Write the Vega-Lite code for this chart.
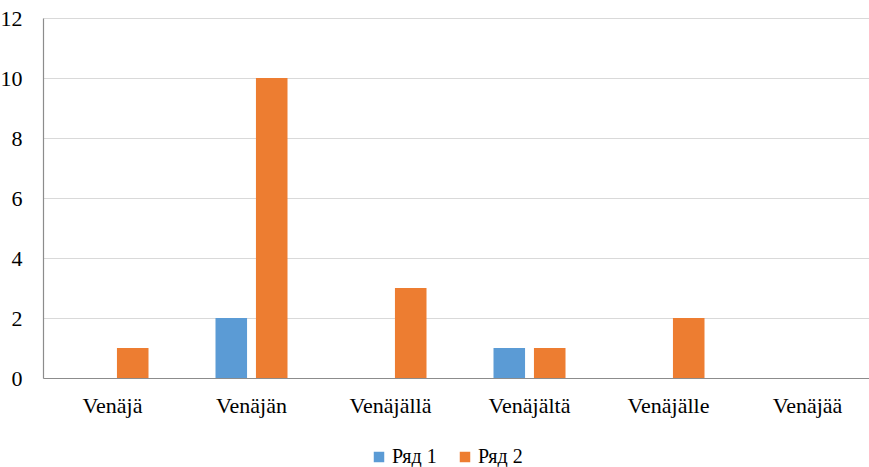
{
  "$schema": "https://vega.github.io/schema/vega-lite/v6.json",
  "autosize": {"type": "none"},
  "width": 834,
  "height": 360,
  "padding": {"left": 43, "top": 18, "right": 0, "bottom": 89},
  "background": "white",
  "data": {
    "values": [
      {"case": "Venäjä", "series": "Ряд 1", "count": 0},
      {"case": "Venäjä", "series": "Ряд 2", "count": 1},
      {"case": "Venäjän", "series": "Ряд 1", "count": 2},
      {"case": "Venäjän", "series": "Ряд 2", "count": 10},
      {"case": "Venäjällä", "series": "Ряд 1", "count": 0},
      {"case": "Venäjällä", "series": "Ряд 2", "count": 3},
      {"case": "Venäjältä", "series": "Ряд 1", "count": 1},
      {"case": "Venäjältä", "series": "Ряд 2", "count": 1},
      {"case": "Venäjälle", "series": "Ряд 1", "count": 0},
      {"case": "Venäjälle", "series": "Ряд 2", "count": 2},
      {"case": "Venäjää", "series": "Ряд 1", "count": 0},
      {"case": "Venäjää", "series": "Ряд 2", "count": 0}
    ]
  },
  "mark": {"type": "bar"},
  "encoding": {
    "x": {
      "field": "case",
      "type": "nominal",
      "sort": null,
      "title": null,
      "scale": {"paddingInner": 0.482, "paddingOuter": 0.241},
      "axis": {
        "labelAngle": 0,
        "labelFont": "Liberation Serif",
        "labelFontSize": 22,
        "labelColor": "#000000",
        "labelPadding": 17,
        "ticks": false,
        "domainColor": "#8c8c8c",
        "domainWidth": 1.2
      }
    },
    "xOffset": {
      "field": "series",
      "type": "nominal",
      "scale": {"paddingInner": 0.22, "paddingOuter": 0}
    },
    "y": {
      "field": "count",
      "type": "quantitative",
      "title": null,
      "scale": {"domain": [0, 12], "nice": false},
      "axis": {
        "values": [0, 2, 4, 6, 8, 10, 12],
        "labelFont": "Liberation Serif",
        "labelFontSize": 22,
        "labelColor": "#000000",
        "labelPadding": 21,
        "ticks": false,
        "domainColor": "#8c8c8c",
        "domainWidth": 1.2,
        "gridColor": "#d9d9d9",
        "gridWidth": 1
      }
    },
    "color": {
      "field": "series",
      "type": "nominal",
      "title": null,
      "scale": {"domain": ["Ряд 1", "Ряд 2"], "range": ["#5b9bd5", "#ed7d31"]},
      "legend": {
        "orient": "none",
        "direction": "horizontal",
        "legendX": 326,
        "legendY": 429,
        "padding": 0,
        "symbolType": "square",
        "symbolSize": 110,
        "symbolStrokeWidth": 0,
        "labelFont": "Liberation Serif",
        "labelFontSize": 20,
        "labelColor": "#000000",
        "labelOffset": 3,
        "columnPadding": 18
      }
    }
  },
  "config": {
    "view": {"stroke": null}
  }
}
